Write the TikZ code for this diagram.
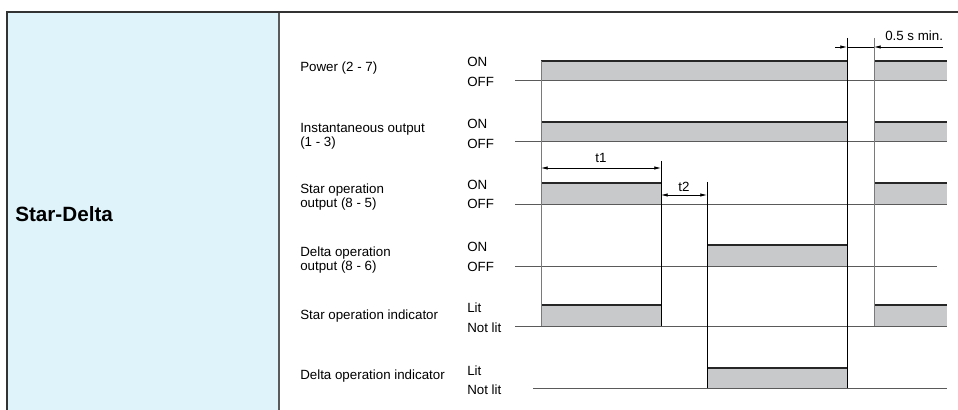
\documentclass[tikz,border=0pt]{standalone}
\usepackage{fontspec}
\setmainfont{Liberation Sans}
\usetikzlibrary{arrows.meta}
\definecolor{panelblue}{HTML}{DFF3FA}
\definecolor{pulsegray}{HTML}{C8C9CB}
\definecolor{framegray}{HTML}{333333}
\definecolor{divgray}{HTML}{5A5A5A}
\definecolor{lightline}{HTML}{7A7A7A}

\begin{document}
\begin{tikzpicture}[x=0.75pt,y=0.75pt,yscale=-1,xscale=1,
  lbl/.style={anchor=west,inner sep=0pt,align=left,font=\fontsize{10}{8.7}\selectfont},
  lvl/.style={anchor=west,inner sep=0pt,font=\fontsize{10}{12}\selectfont},
  pulse/.style={fill=pulsegray,draw=none},
  hi/.style={line width=1.5pt,black!85},
  base/.style={line width=0.75pt,divgray},
  edge/.style={line width=0.75pt},
  tip/.style={Latex[length=5pt,width=2.6pt]},
  dim/.style={line width=0.6pt,{Latex[length=5pt,width=2.6pt]}-{Latex[length=5pt,width=2.6pt]}}
]
\useasboundingbox (0,0) rectangle (958,410);

%Shape: Rectangle (left panel)
\fill[panelblue] (7,12) rectangle (279,410);
\draw[divgray,line width=1.2pt] (279,12) -- (279,410);
%Straight Lines (frame)
\draw[framegray,line width=1.5pt] (7,410) -- (7,12) -- (958,12);

% Text Node
\node (mode) [anchor=west,inner sep=0pt,font=\bfseries\fontsize{15.5}{18}\selectfont] at (15,214) {Star-Delta};

%Shape: Rectangle (pulses)
\fill[pulse] (541,61) rectangle (847,81);
\fill[pulse] (874,61) rectangle (947,81);
\fill[pulse] (541,122) rectangle (847,142);
\fill[pulse] (874,122) rectangle (947,142);
\fill[pulse] (541,183) rectangle (661,204);
\fill[pulse] (874,183) rectangle (947,204);
\fill[pulse] (707,245) rectangle (847,266);
\fill[pulse] (541,305) rectangle (661,326);
\fill[pulse] (874,305) rectangle (947,326);
\fill[pulse] (707,368) rectangle (847,388);

%Straight Lines (OFF levels)
\draw[base] (515,81) -- (947,81);
\draw[base] (515,142) -- (947,142);
\draw[base] (515,204) -- (947,204);
\draw[base] (515,266) -- (937,266);
\draw[base] (515,326) -- (947,326);
\draw[base] (533,388) -- (947,388);

%Straight Lines (ON levels)
\draw[hi] (541,61) -- (847,61);
\draw[hi] (874,61) -- (947,61);
\draw[hi] (541,122) -- (847,122);
\draw[hi] (874,122) -- (947,122);
\draw[hi] (541,183) -- (661,183);
\draw[hi] (874,183) -- (947,183);
\draw[hi] (707,245) -- (847,245);
\draw[hi] (541,305) -- (661,305);
\draw[hi] (874,305) -- (947,305);
\draw[hi] (707,368) -- (847,368);

%Straight Lines (edges)
\draw[edge,lightline] (541,61) -- (541,326);
\draw[edge] (661,161) -- (661,326);
\draw[edge] (707,182) -- (707,388);
\draw[edge] (847,38) -- (847,388);
\draw[edge,lightline] (874,38) -- (874,326);

% Dimension points
\coordinate (t1a) at (541,168);
\coordinate (t1b) at (661,168);
\coordinate (t2a) at (661,195);
\coordinate (t2b) at (707,195);
\coordinate (ofa) at (835,47);
\coordinate (ofb) at (847,47);
\coordinate (ofc) at (874,47);
\coordinate (ofd) at (943,47);

%Straight Lines (dimensions)
\draw[dim] (t1a) -- (t1b);
\draw[dim] (t2a) -- (t2b);
\draw[line width=0.6pt,-{Latex[length=5pt,width=2.6pt]}] (ofa) -- (ofb);
\draw[line width=0.6pt] (ofb) -- (ofc);
\draw[line width=0.6pt,{Latex[length=5pt,width=2.6pt]}-] (ofc) -- (ofd);

% Text Node
\node (t1) [lvl,anchor=center] at (601,158) {t1};
\node (t2) [lvl,anchor=center] at (684,187) {t2};
\node (off) [lvl] at (885,36) {0.5 s min.};

% Text Node (signal names)
\node (pwr) [lbl] at (300,68) {Power (2 - 7)};
\node (inst) [lbl] at (300,136) {Instantaneous output\\(1 - 3)};
\node (star) [lbl] at (300,197) {Star operation\\output (8 - 5)};
\node (delta) [lbl] at (300,260) {Delta operation\\output (8 - 6)};
\node (sind) [lbl] at (300,316) {Star operation indicator};
\node (dind) [lbl] at (300,376) {Delta operation indicator};

% Text Node (levels)
\node (on1) [lvl] at (467,62) {ON};
\node (of1) [lvl] at (467,82) {OFF};
\node (on2) [lvl] at (467,124) {ON};
\node (of2) [lvl] at (467,144) {OFF};
\node (on3) [lvl] at (467,185) {ON};
\node (of3) [lvl] at (467,204) {OFF};
\node (on4) [lvl] at (467,247) {ON};
\node (of4) [lvl] at (467,267) {OFF};
\node (on5) [lvl] at (467,308) {Lit};
\node (of5) [lvl] at (467,328) {Not lit};
\node (on6) [lvl] at (467,371) {Lit};
\node (of6) [lvl] at (467,390) {Not lit};

\end{tikzpicture}
\end{document}
